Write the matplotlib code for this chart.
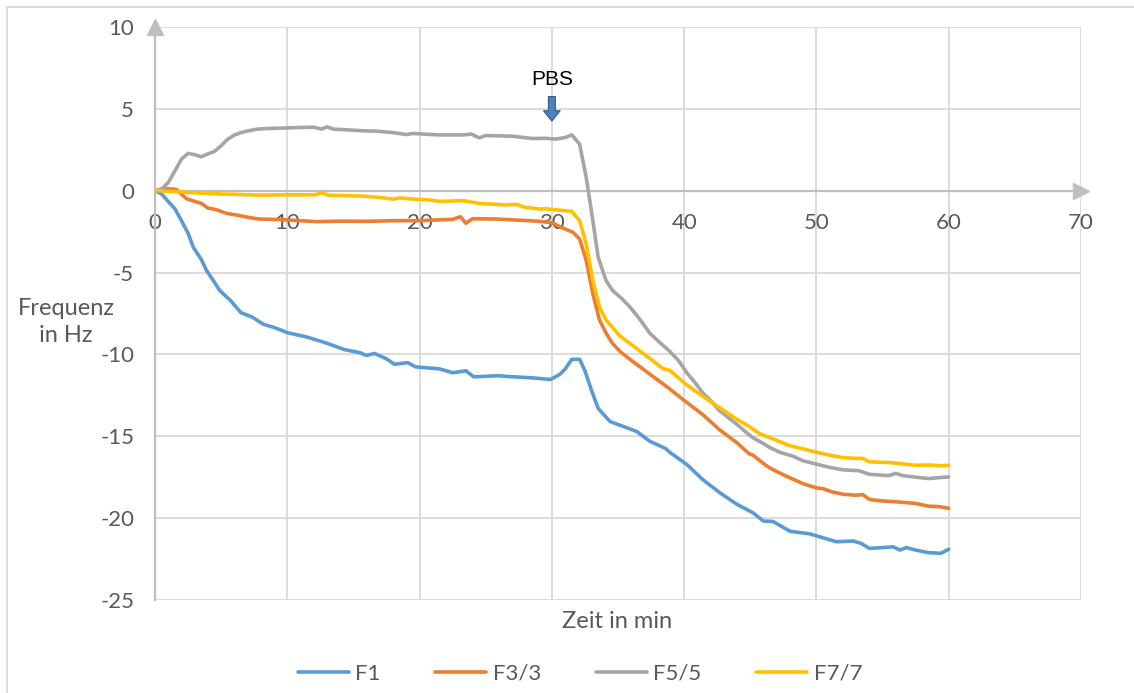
import matplotlib
matplotlib.use("Agg")
import matplotlib.pyplot as plt
from matplotlib.patches import Rectangle

# --- data (time in min, frequency shift in Hz) ---
T_F1 = [0, 0.5, 0.9, 1.5, 2.0, 2.5, 2.9, 3.5, 3.9, 4.5, 4.9, 5.7, 6.5, 7.3, 8.2, 9.0,
        10.0, 11.4, 12.9, 14.3, 15.5, 16.0, 16.6, 17.5, 18.1, 19.1, 19.7, 21.5, 22.5,
        23.5, 24.1, 25.9, 26.7, 28.5, 29.9, 30.6, 31.0, 31.5, 32.1, 32.5, 33.0, 33.5,
        34.4, 35.4, 36.4, 37.4, 38.6, 38.9, 40.2, 41.4, 42.7, 44.0, 45.2, 46.0, 46.7,
        48.0, 49.5, 50.5, 51.5, 52.8, 53.4, 54.0, 55.0, 55.8, 56.3, 56.8, 57.5, 58.4,
        59.4, 60.0]
F1 = [0, -0.2, -0.57, -1.1, -1.83, -2.6, -3.46, -4.2, -4.88, -5.6, -6.1, -6.7, -7.45,
      -7.7, -8.16, -8.35, -8.67, -8.92, -9.29, -9.7, -9.9, -10.06, -9.94, -10.27, -10.6,
      -10.5, -10.76, -10.88, -11.12, -11.0, -11.37, -11.3, -11.35, -11.43, -11.53,
      -11.22, -10.9, -10.3, -10.3, -11.0, -12.2, -13.3, -14.1, -14.4, -14.7, -15.3,
      -15.75, -15.97, -16.72, -17.64, -18.45, -19.16, -19.67, -20.18, -20.2, -20.8,
      -20.96, -21.2, -21.44, -21.4, -21.55, -21.85, -21.8, -21.75, -21.95, -21.8,
      -21.95, -22.1, -22.15, -21.9]

T_F3 = [0, 0.5, 1.0, 1.6, 2.4, 3.0, 3.5, 4.0, 4.6, 5.4, 6.4, 7.2, 7.9, 9.7, 12.2, 14.0,
        16.0, 18.2, 20.0, 22.5, 23.1, 23.5, 24.0, 25.8, 28.0, 29.1, 30.0, 30.6, 31.6,
        32.1, 32.6, 33.1, 33.6, 34.1, 34.6, 35.2, 35.9, 36.9, 37.9, 38.9, 39.9, 41.4,
        42.7, 44.0, 44.9, 45.2, 45.9, 46.5, 47.7, 49.0, 50.0, 50.5, 51.2, 52.0, 53.0,
        53.5, 54.0, 55.0, 56.0, 57.5, 58.5, 59.3, 60.0]
F3 = [0, 0.1, 0.12, 0.08, -0.5, -0.65, -0.77, -1.06, -1.15, -1.38, -1.52, -1.65, -1.73,
      -1.77, -1.89, -1.86, -1.87, -1.83, -1.83, -1.75, -1.59, -1.99, -1.71, -1.73,
      -1.82, -1.87, -1.95, -2.2, -2.54, -2.95, -4.27, -6.3, -7.9, -8.7, -9.35, -9.85,
      -10.3, -10.9, -11.5, -12.1, -12.75, -13.67, -14.62, -15.4, -16.06, -16.15, -16.6,
      -16.95, -17.43, -17.9, -18.15, -18.2, -18.4, -18.54, -18.6, -18.56, -18.86,
      -18.95, -19.0, -19.1, -19.27, -19.3, -19.4]

T_F5 = [0, 0.5, 1.0, 1.5, 2.0, 2.5, 3.0, 3.5, 4.0, 4.5, 5.0, 5.5, 6.0, 6.5, 7.0, 7.7,
        8.5, 9.9, 10.9, 12.0, 12.6, 13.0, 13.5, 14.5, 15.7, 16.7, 18.0, 19.0, 19.5,
        20.5, 21.5, 23.3, 23.9, 24.5, 25.0, 26.0, 27.0, 28.5, 29.5, 30.3, 31.0, 31.5,
        32.1, 32.6, 33.1, 33.5, 34.1, 34.6, 35.3, 35.9, 36.6, 37.4, 38.2, 38.9, 39.6,
        40.2, 40.8, 41.4, 42.1, 42.7, 43.4, 44.0, 44.6, 45.2, 45.9, 46.5, 47.3, 48.2,
        49.0, 50.0, 51.0, 52.0, 53.2, 54.0, 55.0, 55.5, 56.0, 56.5, 57.5, 58.5, 59.4,
        60.0]
F5 = [0, 0.1, 0.5, 1.2, 1.93, 2.28, 2.2, 2.07, 2.25, 2.4, 2.75, 3.15, 3.4, 3.55, 3.65,
      3.76, 3.8, 3.83, 3.86, 3.88, 3.76, 3.9, 3.76, 3.72, 3.66, 3.64, 3.55, 3.43, 3.5,
      3.45, 3.41, 3.41, 3.46, 3.23, 3.37, 3.35, 3.33, 3.19, 3.2, 3.15, 3.25, 3.41, 2.84,
      0.8, -1.83, -4.07, -5.49, -6.1, -6.6, -7.1, -7.8, -8.7, -9.3, -9.8, -10.4, -11.12,
      -11.7, -12.34, -12.9, -13.46, -13.9, -14.28, -14.7, -15.09, -15.4, -15.7, -16.0,
      -16.21, -16.5, -16.7, -16.9, -17.05, -17.1, -17.32, -17.38, -17.4, -17.26, -17.4,
      -17.5, -17.58, -17.52, -17.48]

T_F7 = [0, 1.0, 2.4, 3.5, 5.1, 6.0, 7.1, 8.0, 10.0, 12.1, 12.6, 13.1, 14.5, 15.7, 17.0,
        18.0, 18.5, 19.5, 20.8, 21.5, 23.3, 24.5, 25.5, 26.5, 27.3, 28.0, 29.1, 29.5,
        30.5, 31.5, 32.1, 32.6, 33.1, 33.6, 34.1, 35.1, 36.6, 37.5, 38.4, 38.9, 40.1,
        41.4, 42.2, 42.7, 44.0, 44.9, 45.7, 46.5, 47.9, 50.0, 51.0, 52.0, 53.0, 53.5,
        54.0, 55.5, 57.5, 58.5, 59.5, 60.0]
F7 = [0, -0.03, -0.1, -0.15, -0.2, -0.22, -0.25, -0.27, -0.25, -0.25, -0.12, -0.28,
      -0.3, -0.33, -0.41, -0.51, -0.44, -0.51, -0.57, -0.65, -0.61, -0.77, -0.82, -0.87,
      -0.83, -1.02, -1.12, -1.1, -1.18, -1.26, -1.83, -3.25, -5.5, -7.1, -7.9, -8.84,
      -9.76, -10.3, -10.87, -10.96, -11.8, -12.55, -13.0, -13.26, -13.97, -14.39,
      -14.84, -15.09, -15.55, -15.97, -16.15, -16.3, -16.35, -16.35, -16.56, -16.6,
      -16.77, -16.75, -16.8, -16.77]

SERIES = [
    ("F1", T_F1, F1, "#5B9BD5"),
    ("F3/3", T_F3, F3, "#ED7D31"),
    ("F5/5", T_F5, F5, "#A5A5A5"),
    ("F7/7", T_F7, F7, "#FFC000"),
]
PBS_TIME = 30

TEXT = "#595959"
GRID = "#d9d9d9"
AXIS = "#bfbfbf"
FONT = ["Lato", "DejaVu Sans"]

W, H = 1134, 693
fig = plt.figure(figsize=(W / 100, H / 100), dpi=100)
plt.rcParams["font.family"] = FONT
plt.rcParams["axes.unicode_minus"] = False

# chart frame (only left/top edges visible in the crop)
fig.patches.append(Rectangle((7 / W, -0.1), 1.2, 1.1 - 7 / H, transform=fig.transFigure,
                             fill=False, ec=GRID, lw=1.3))

ax = fig.add_axes([155 / W, 1 - 600 / H, (1081 - 155) / W, (600 - 27) / H])
ax.set_xlim(0, 70)
ax.set_ylim(-25, 10)
ax.set_xticks(range(0, 71, 10))
ax.set_yticks(range(-25, 11, 5))
ax.grid(True, color=GRID, lw=1.3)
ax.set_axisbelow(True)

for side in ("top", "right"):
    ax.spines[side].set_visible(False)
ax.spines["bottom"].set_position(("data", 0))
for side in ("bottom", "left"):
    ax.spines[side].set_color(AXIS)
    ax.spines[side].set_linewidth(1.6)
    ax.spines[side].set_zorder(1.5)
# arrow heads at the axis ends
ax.plot(1, 0, ">", color=AXIS, ms=11, transform=ax.get_yaxis_transform(), clip_on=False)
ax.plot(0, 1, "^", color=AXIS, ms=11, transform=ax.get_xaxis_transform(), clip_on=False)

ax.tick_params(length=0, labelsize=16, labelcolor=TEXT)
ax.tick_params(axis="x", pad=16)
ax.tick_params(axis="y", pad=15)

lines = []
for name, t, v, color in SERIES:
    (ln,) = ax.plot(t, v, color=color, lw=2.6, label=name, solid_capstyle="round", zorder=3)
    lines.append(ln)

# PBS marker
ax.annotate("", xy=(PBS_TIME, 4.25), xytext=(PBS_TIME, 5.75),
            arrowprops=dict(arrowstyle="simple,head_width=1.2,head_length=0.75,tail_width=0.5",
                            mutation_scale=10, fc="#4f81bd", ec="#385d8a", lw=0.8,
                            shrinkA=0, shrinkB=0))
ax.text(PBS_TIME, 6.8, "PBS", ha="center", va="center", fontsize=15,
        family=["Liberation Sans", "DejaVu Sans"], color="black")

fig.text(66 / W, 1 - 322 / H, "Frequenz\nin Hz", ha="center", va="center", fontsize=17,
         color=TEXT, linespacing=1.35)
fig.text(617 / W, 1 - 622 / H, "Zeit in min", ha="center", va="center", fontsize=17,
         color=TEXT)

leg = fig.legend(handles=lines, loc="center", bbox_to_anchor=(580 / W, 1 - 674 / H),
                 ncol=4, frameon=False, fontsize=16, handlelength=2.3,
                 handletextpad=0.3, columnspacing=2.45)
for txt in leg.get_texts():
    txt.set_color(TEXT)

fig.savefig("out.png", dpi=100)
